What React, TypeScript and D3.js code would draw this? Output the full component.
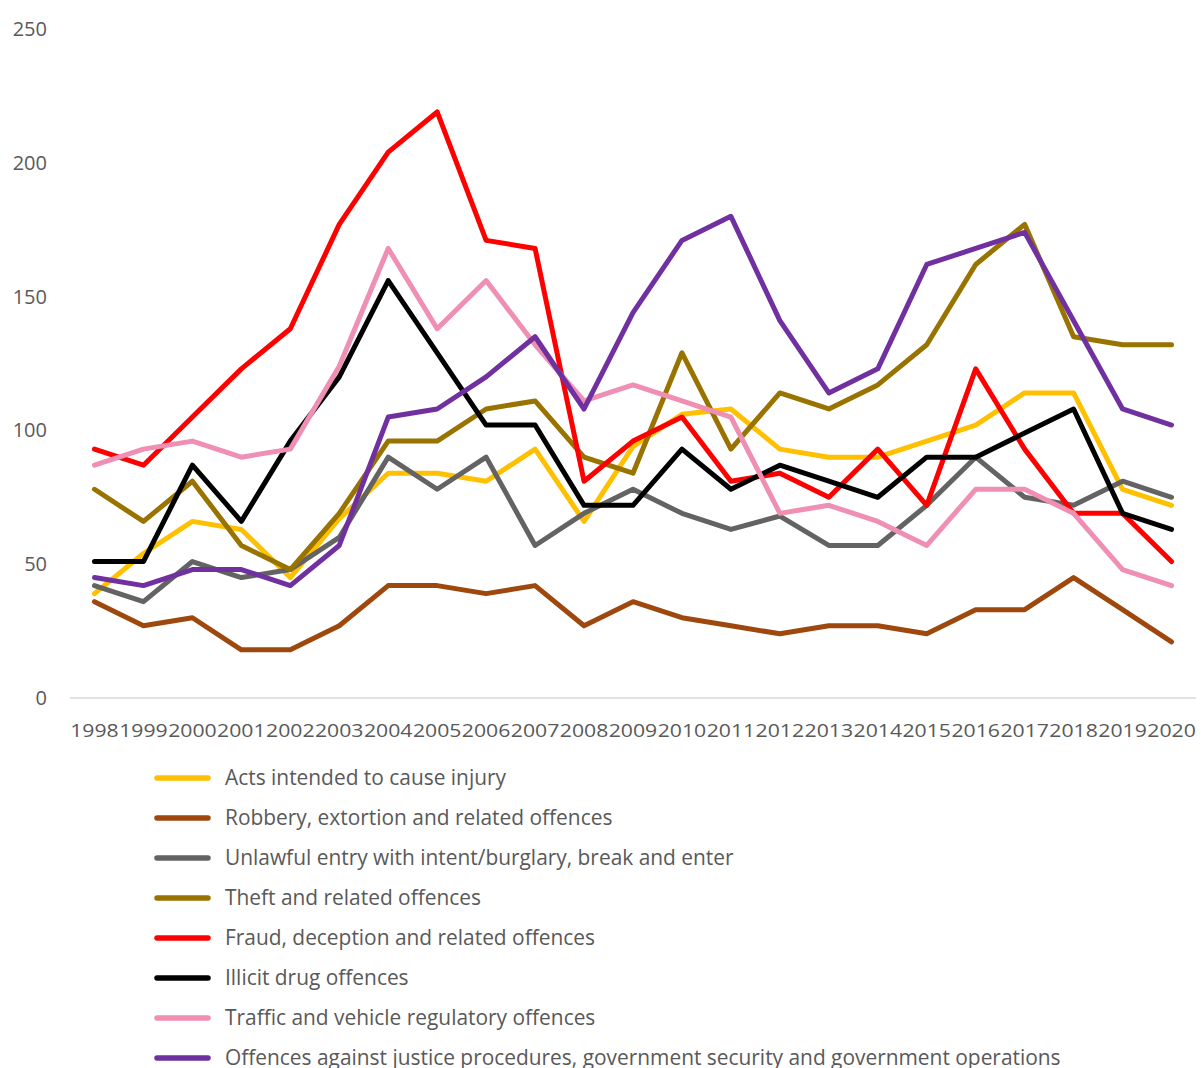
import React from "react";
import * as d3 from "d3";

const years = ["1998","1999","2000","2001","2002","2003","2004","2005","2006","2007","2008","2009","2010","2011","2012","2013","2014","2015","2016","2017","2018","2019","2020"];

const actsInjury = [39,54,66,63,45,67,84,84,81,93,66,94,106,108,93,90,90,96,102,114,114,78,72];
const robbery = [36,27,30,18,18,27,42,42,39,42,27,36,30,27,24,27,27,24,33,33,45,33,21];
const unlawfulEntry = [42,36,51,45,48,60,90,78,90,57,69,78,69,63,68,57,57,72,90,75,72,81,75];
const theft = [78,66,81,57,48,69,96,96,108,111,90,84,129,93,114,108,117,132,162,177,135,132,132];
const fraud = [93,87,105,123,138,177,204,219,171,168,81,96,105,81,84,75,93,72,123,93,69,69,51];
const illicitDrug = [51,51,87,66,96,120,156,129,102,102,72,72,93,78,87,81,75,90,90,99,108,69,63];
const traffic = [87,93,96,90,93,124,168,138,156,132,111,117,111,105,69,72,66,57,78,78,69,48,42];
const justice = [45,42,48,48,42,57,105,108,120,135,108,144,171,180,141,114,123,162,168,174,141,108,102];

const seriesNames = [
  "Acts intended to cause injury",
  "Robbery, extortion and related offences",
  "Unlawful entry with intent/burglary, break and enter",
  "Theft and related offences",
  "Fraud, deception and related offences",
  "Illicit drug offences",
  "Traffic and vehicle regulatory offences",
  "Offences against justice procedures, government security and government operations",
];
const seriesColors = ["#FFC000","#9E480E","#636363","#997300","#FF0000","#000000","#EE8FB3","#7030A0"];
const seriesValues = [actsInjury, robbery, unlawfulEntry, theft, fraud, illicitDrug, traffic, justice];
const yTicks = [0,50,100,150,200,250];

export default function App() {
  const W = 1203, H = 1068;
  const x = d3.scaleBand<string>().domain(years).range([70, 1196]);
  const cx = (y: string) => (x(y) as number) + x.bandwidth() / 2;
  const y = d3.scaleLinear().domain([0, 250]).range([698, 29]);
  const line = d3.line<number>().x((_, i) => cx(years[i])).y((v) => y(v));
  const font = "'Open Sans', sans-serif";
  return (
    <svg width={W} height={H} style={{ position: "absolute", left: 0, top: 0, display: "block", background: "#fff" }}>
      <line x1={70} x2={1196} y1={y(0)} y2={y(0)} stroke="#D9D9D9" strokeWidth={1.5} />
      {yTicks.map((t) => (
        <text key={t} x={47} y={y(t)} dy="0.35em" textAnchor="end" fontFamily={font} fontSize={20} fill="#595959">{t}</text>
      ))}
      {years.map((yr) => (
        <text key={yr} x={cx(yr)} y={730} dy="0.35em" textAnchor="middle" fontFamily={font} fontSize={19} fill="#595959" textLength={48.5} lengthAdjust="spacingAndGlyphs">{yr}</text>
      ))}
      {seriesValues.map((vals, i) => (
        <path key={i} d={line(vals) || ""} fill="none" stroke={seriesColors[i]} strokeWidth={5} strokeLinejoin="round" strokeLinecap="round" />
      ))}
      {seriesNames.map((n, i) => {
        const ly = 778 + i * 40;
        return (
          <g key={n}>
            <line x1={157} x2={208} y1={ly} y2={ly} stroke={seriesColors[i]} strokeWidth={5.5} strokeLinecap="round" />
            <text x={225} y={ly} dy="0.35em" fontFamily={font} fontSize={20.9} fill="#595959">{n}</text>
          </g>
        );
      })}
    </svg>
  );
}
